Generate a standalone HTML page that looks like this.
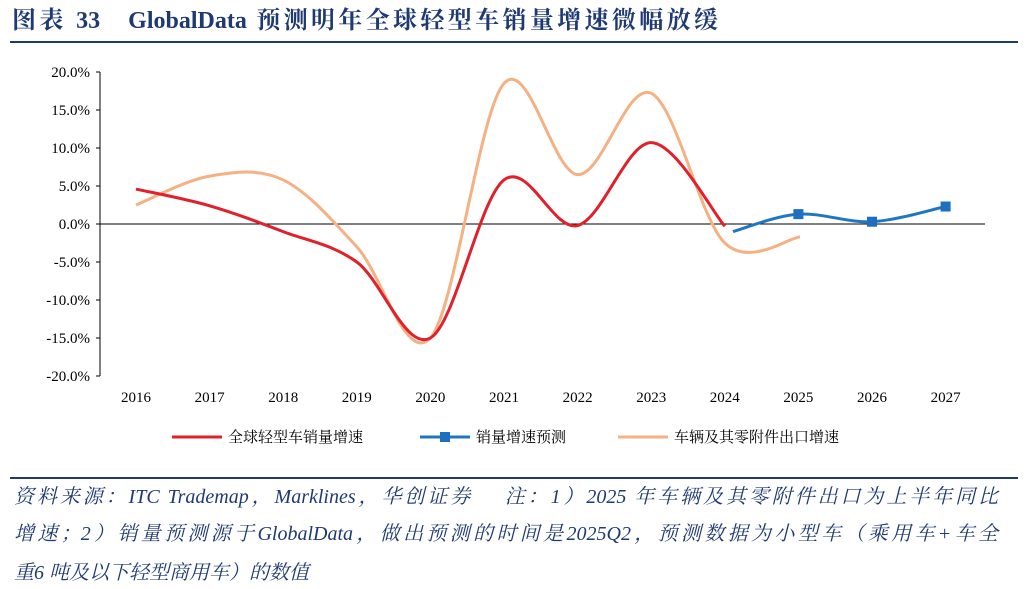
<!DOCTYPE html>
<html><head><meta charset="utf-8"><style>
body{margin:0;width:1026px;height:589px;background:#fff;overflow:hidden;font-family:"Liberation Serif","Noto Serif CJK SC",serif;}
.title{position:absolute;left:12px;top:0px;width:706px;font-size:24px;font-weight:bold;color:#1f3a73;white-space:nowrap;text-align-last:justify;text-align:justify}
.hr{position:absolute;left:10px;width:1008px;background:#1f3a73}
.fl{position:absolute;left:14px;font-size:20px;font-style:italic;color:#1f3a73;white-space:nowrap;line-height:26px}
.j{width:984px;text-align:justify;text-align-last:justify}
svg{position:absolute;left:0;top:0}
</style></head><body>
<div class="title">图表 33&nbsp;&nbsp;&nbsp;GlobalData 预测明年全球轻型车销量增速微幅放缓</div>
<div class="hr" style="top:41px;height:2px"></div>
<div class="hr" style="top:477px;height:1.5px"></div>
<div class="fl j" style="top:484px">资料来源：ITC Trademap，Marklines，华创证券&nbsp;&nbsp;&nbsp;&nbsp;注：1）2025 年车辆及其零附件出口为上半年同比</div>
<div class="fl j" style="top:521px">增速；2）销量预测源于GlobalData，做出预测的时间是2025Q2，预测数据为小型车（乘用车+车全</div>
<div class="fl" style="top:560px">重6 吨及以下轻型商用车）的数值</div>
<svg id="c" width="1026" height="589" font-family="Liberation Serif, serif"></svg>
<script>
var s=document.getElementById('c'),h='';
function Y(v){return 224-v*7.6}
function X(i){return 136+i*73.6}
h+='<line x1="100" y1="72" x2="100" y2="376" stroke="#000" stroke-width="1"/>';
for(var v=20;v>=-20;v-=5){var y=Y(v);h+='<line x1="96" y1="'+y+'" x2="100" y2="'+y+'" stroke="#000"/>';h+='<text x="90" y="'+(y+5)+'" font-size="15" text-anchor="end">'+v.toFixed(1)+'%</text>';}
h+='<line x1="100" y1="224" x2="985" y2="224" stroke="#000"/>';
for(var i=0;i<12;i++){h+='<text x="'+X(i)+'" y="402" font-size="15" text-anchor="middle">'+(2016+i)+'</text>';}
function path(pts){var d='M'+pts[0][0]+','+pts[0][1];for(var i=0;i<pts.length-1;i++){var p0=pts[i-1]||pts[i],p1=pts[i],p2=pts[i+1],p3=pts[i+2]||p2;d+=' C'+(p1[0]+(p2[0]-p0[0])/6)+','+(p1[1]+(p2[1]-p0[1])/6)+' '+(p2[0]-(p3[0]-p1[0])/6)+','+(p2[1]-(p3[1]-p1[1])/6)+' '+p2[0]+','+p2[1];}return d}
function P(arr,off){return arr.map(function(v,i){return [X(i+off),Y(v)]})}
var org=P([2.5,6.3,5.8,-3,-15,18.5,6.5,17.2,-2.5,-1.7],0);
org[9][0]=800;
var red=P([4.6,2.4,-1,-5,-15,5.8,-0.2,10.7,-0.3],0);
var blue=[[733,Y(-1)],[X(9),Y(1.3)],[X(10),Y(0.3)],[X(11),Y(2.3)]];
h+='<path d="'+path(org)+'" fill="none" stroke="#f4b183" stroke-width="3"/>';
h+='<path d="'+path(red)+'" fill="none" stroke="#e0202a" stroke-width="3"/>';
h+='<path d="'+path(blue)+'" fill="none" stroke="#1f77c4" stroke-width="3"/>';
for(var i=1;i<4;i++)h+='<rect x="'+(blue[i][0]-5)+'" y="'+(blue[i][1]-5)+'" width="10" height="10" fill="#1f6fc0"/>';
h+='<line x1="172" y1="437" x2="222" y2="437" stroke="#e0202a" stroke-width="3"/><text x="228" y="442" font-size="15" font-family="Noto Serif CJK SC,serif">全球轻型车销量增速</text>';
h+='<line x1="420" y1="437" x2="470" y2="437" stroke="#1f77c4" stroke-width="3"/><rect x="440" y="432" width="10" height="10" fill="#1f6fc0"/><text x="476" y="442" font-size="15" font-family="Noto Serif CJK SC,serif">销量增速预测</text>';
h+='<line x1="618" y1="437" x2="668" y2="437" stroke="#f4b183" stroke-width="3"/><text x="674" y="442" font-size="15" font-family="Noto Serif CJK SC,serif">车辆及其零附件出口增速</text>';
s.innerHTML=h;
</script>
</body></html>
